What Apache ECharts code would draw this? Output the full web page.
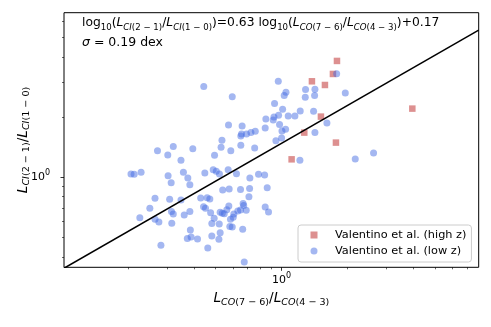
<!DOCTYPE html>
<html>
<head>
<meta charset="utf-8">
<script src="https://cdn.jsdelivr.net/npm/echarts@6/dist/echarts.min.js"></script>
<style>
  html, body { margin: 0; padding: 0; background: #fff; }
  #container { width: 491px; height: 327px; }
</style>
</head>
<body>
<div id="container"></div>
<script>
// L_CO(7-6)/L_CO(4-3) and L_CI(2-1)/L_CI(1-0)
var highZX = [1.788, 1.714, 1.375, 1.576, 3.942, 1.511, 1.269, 1.769, 1.111];
var highZY = [3.817, 3.286, 3.020, 2.894, 2.205, 2.011, 1.673, 1.491, 1.230];

var lowZX = [
  0.966, 1.782, 0.442, 0.596, 1.286, 1.419, 1.047, 1.028, 1.282, 1.414,
  1.951, 0.929, 1.011, 1.216, 1.399, 1.072, 1.150, 0.848, 0.923, 0.969,
  0.916, 0.573, 0.661, 0.842, 0.979, 1.043, 1.004, 0.652, 0.657, 0.692,
  0.725, 0.759, 1.419, 1.609, 1.000, 0.942, 0.535, 0.321, 0.394, 0.530,
  0.652, 0.754, 0.272, 0.303, 0.495, 0.587, 0.348, 1.212, 2.166, 2.625,
  0.206, 0.213, 0.229, 0.304, 0.357, 0.374, 0.447, 0.488, 0.504, 0.521,
  0.571, 0.623, 0.314, 0.382, 0.717, 0.785, 0.837, 0.265, 0.309, 0.348,
  0.428, 0.458, 0.471, 0.539, 0.577, 0.650, 0.715, 0.710, 0.860, 0.251,
  0.226, 0.265, 0.276, 0.315, 0.321, 0.316, 0.360, 0.382, 0.441, 0.450,
  0.525, 0.537, 0.493, 0.563, 0.575, 0.606, 0.632, 0.650, 0.668, 0.672,
  0.690, 0.842, 0.872, 0.481, 0.520, 0.581, 0.596, 0.585, 0.602, 0.665,
  0.384, 0.372, 0.387, 0.414, 0.481, 0.518, 0.525, 0.282, 0.461, 0.676,
  0.475, 0.548
];
var lowZY = [
  3.020, 3.296, 2.840, 2.531, 2.744, 2.754, 2.661, 2.561, 2.512, 2.561,
  2.641, 2.336, 2.188, 2.146, 2.138, 2.026, 2.026, 1.957, 2.003, 2.042,
  1.934, 1.826, 1.805, 1.765, 1.834, 1.738, 1.705, 1.609, 1.647, 1.647,
  1.673, 1.698, 1.673, 1.869, 1.573, 1.525, 1.531, 1.424, 1.391, 1.413,
  1.445, 1.402, 1.359, 1.293, 1.288, 1.359, 1.216, 1.216, 1.235, 1.323,
  1.039, 1.035, 1.059, 1.019, 1.059, 0.992, 1.051, 1.092, 1.072, 1.039,
  1.092, 1.043, 0.940, 0.919, 0.992, 1.035, 1.027, 0.785, 0.776, 0.770,
  0.788, 0.791, 0.779, 0.864, 0.874, 0.868, 0.878, 0.800, 0.888, 0.700,
  0.628, 0.617, 0.598, 0.674, 0.656, 0.589, 0.648, 0.674, 0.713, 0.700,
  0.668, 0.661, 0.624, 0.689, 0.719, 0.656, 0.679, 0.687, 0.739, 0.722,
  0.684, 0.711, 0.671, 0.587, 0.584, 0.567, 0.565, 0.617, 0.631, 0.550,
  0.545, 0.494, 0.503, 0.492, 0.509, 0.490, 0.529, 0.457, 0.443, 0.377,
  0.666, 0.658
];

// fit: log10(y) = 0.63 log10(x) + 0.17
var fitSlope = 0.63;
var fitIntercept = 0.17;

var xRange = [0.102, 7.91];
var yRange = [0.355, 6.65];
var xMajorTicks = [1];
var xMinorTicks = [0.2, 0.3, 0.4, 0.5, 0.6, 0.7, 0.8, 0.9, 2, 3, 4, 5, 6, 7];
var yMajorTicks = [1];
var yMinorTicks = [0.4, 0.5, 0.6, 0.7, 0.8, 0.9, 2, 3, 4, 5, 6];

var FONT = "DejaVu Sans";
var lg = Math.log10;

function pairs(xs, ys) {
  return xs.map(function (x, i) { return [lg(x), lg(ys[i])]; });
}

function mathRich(size, lh, subLh) {
  var sub = size * 0.7;
  var base = { fontFamily: FONT, fontWeight: "normal", color: "#000" };
  return {
    n: Object.assign({ fontSize: size, lineHeight: lh, verticalAlign: "middle" }, base),
    i: Object.assign({ fontSize: size, lineHeight: lh, verticalAlign: "middle", fontStyle: "italic" }, base),
    s: Object.assign({ fontSize: sub, lineHeight: subLh, verticalAlign: "bottom" }, base),
    si: Object.assign({ fontSize: sub, lineHeight: subLh, verticalAlign: "bottom", fontStyle: "italic" }, base)
  };
}

var tickRich = {
  a: { fontFamily: FONT, fontSize: 11, lineHeight: 16, verticalAlign: "middle", color: "#000" },
  b: { fontFamily: FONT, fontSize: 8, lineHeight: 10, verticalAlign: "top", color: "#000" }
};

function tickLabel(v) {
  return Math.abs(v) < 1e-9 ? "{a|10}{b|0}" : "";
}

function axisBase(range) {
  return {
    type: "value",
    min: lg(range[0]),
    max: lg(range[1]),
    axisLine: { show: false, onZero: false },
    splitLine: { show: false },
    nameMoveOverlap: false
  };
}

var dom = document.getElementById("container");
var myChart = echarts.init(dom, null, { renderer: "canvas" });

var option = {
  animation: false,
  title: [
    {
      left: 82,
      top: 14,
      padding: 0,
      text: "{n|log}{s|10}{n|(}{i|L}{si|CI}{s|(2 − 1)}{n|/}{i|L}{si|CI}{s|(1 − 0)}{n|)=0.63 log}{s|10}{n|(}{i|L}{si|CO}{s|(7 − 6)}{n|/}{i|L}{si|CO}{s|(4 − 3)}{n|)+0.17}",
      textStyle: { fontWeight: "normal", rich: mathRich(12.3, 18, 12) }
    },
    {
      left: 82,
      top: 33.5,
      padding: 0,
      text: "{i|σ}{n| = 0.19 dex}",
      textStyle: { fontWeight: "normal", rich: mathRich(12.5, 18, 12) }
    }
  ],
  grid: {
    left: 64,
    right: 12.3,
    top: 12.7,
    bottom: 59.7,
    show: true,
    borderColor: "#000",
    borderWidth: 1,
    backgroundColor: "transparent"
  },
  legend: {
    orient: "vertical",
    left: 298,
    top: 225,
    padding: [3, 5, 4, 12.5],
    itemWidth: 7,
    itemHeight: 7,
    itemGap: 2,
    backgroundColor: "rgba(255,255,255,0.8)",
    borderColor: "#cccccc",
    borderWidth: 1,
    borderRadius: 3,
    selectedMode: false,
    textStyle: {
      fontFamily: FONT,
      fontSize: 11.3,
      lineHeight: 14,
      color: "#000",
      padding: [0, 0, 0, 12.5]
    },
    data: [
      { name: "Valentino et al. (high z)", icon: "rect" },
      { name: "Valentino et al. (low z)", icon: "circle" }
    ]
  },
  xAxis: [
    Object.assign(axisBase(xRange), {
      position: "bottom",
      axisTick: { show: true, length: 3.5, lineStyle: { color: "#000", width: 0.8 }, customValues: xMajorTicks.map(lg) },
      axisLabel: { show: true, margin: 5, formatter: tickLabel, rich: tickRich, customValues: xMajorTicks.map(lg) },
      name: "{i|L}{si|CO}{s|(7 − 6)}{n|/}{i|L}{si|CO}{s|(4 − 3)}",
      nameLocation: "middle",
      nameGap: 22,
      nameTextStyle: { rich: mathRich(13.7, 18, 12) }
    }),
    Object.assign(axisBase(xRange), {
      position: "bottom",
      axisTick: { show: true, length: 2, lineStyle: { color: "#000", width: 0.6 }, customValues: xMinorTicks.map(lg) },
      axisLabel: { show: false }
    })
  ],
  yAxis: [
    Object.assign(axisBase(yRange), {
      position: "left",
      axisTick: { show: true, length: 3.5, lineStyle: { color: "#000", width: 0.8 }, customValues: yMajorTicks.map(lg) },
      axisLabel: { show: true, margin: 14, formatter: tickLabel, rich: tickRich, customValues: yMajorTicks.map(lg) },
      name: "{i|L}{si|CI}{s|(2 − 1)}{n|/}{i|L}{si|CI}{s|(1 − 0)}",
      nameLocation: "middle",
      nameRotate: 90,
      nameGap: 32,
      nameTextStyle: { rich: mathRich(13.7, 18, 12) }
    }),
    Object.assign(axisBase(yRange), {
      position: "left",
      axisTick: { show: true, length: 2, lineStyle: { color: "#000", width: 0.6 }, customValues: yMinorTicks.map(lg) },
      axisLabel: { show: false }
    })
  ],
  series: [
    {
      name: "Valentino et al. (high z)",
      type: "scatter",
      symbol: "rect",
      symbolSize: 6.5,
      itemStyle: { color: "rgba(205,92,92,0.85)" },
      data: pairs(highZX, highZY),
      z: 2
    },
    {
      name: "Valentino et al. (low z)",
      type: "scatter",
      symbol: "circle",
      symbolSize: 7,
      itemStyle: { color: "rgba(65,105,225,0.6)" },
      data: pairs(lowZX, lowZY),
      z: 3
    },
    {
      name: "fit",
      type: "line",
      symbol: "none",
      silent: true,
      lineStyle: { color: "#000", width: 1.5 },
      data: xRange.map(function (x) { return [lg(x), fitSlope * lg(x) + fitIntercept]; }),
      z: 4
    }
  ]
};

myChart.setOption(option);
window.addEventListener("resize", myChart.resize);
</script>
</body>
</html>
